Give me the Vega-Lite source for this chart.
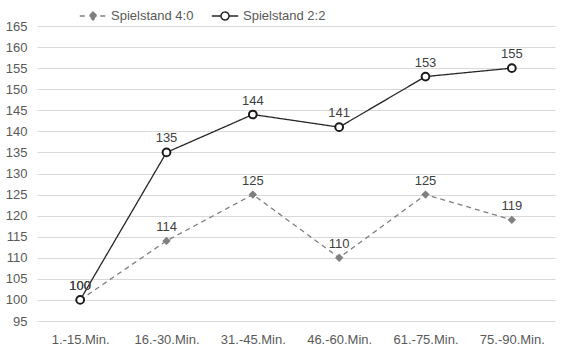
{
  "$schema": "https://vega.github.io/schema/vega-lite/v6.json",
  "width": 518,
  "height": 295,
  "autosize": {"type": "none"},
  "padding": {"left": 37, "top": 26, "right": 6, "bottom": 31},
  "background": "white",
  "config": {
    "font": "Liberation Sans",
    "view": {"stroke": null}
  },
  "data": {
    "values": [
      {"zeit": "1.-15.Min.", "serie": "Spielstand 4:0", "wert": 100},
      {"zeit": "16.-30.Min.", "serie": "Spielstand 4:0", "wert": 114},
      {"zeit": "31.-45.Min.", "serie": "Spielstand 4:0", "wert": 125},
      {"zeit": "46.-60.Min.", "serie": "Spielstand 4:0", "wert": 110},
      {"zeit": "61.-75.Min.", "serie": "Spielstand 4:0", "wert": 125},
      {"zeit": "75.-90.Min.", "serie": "Spielstand 4:0", "wert": 119},
      {"zeit": "1.-15.Min.", "serie": "Spielstand 2:2", "wert": 100},
      {"zeit": "16.-30.Min.", "serie": "Spielstand 2:2", "wert": 135},
      {"zeit": "31.-45.Min.", "serie": "Spielstand 2:2", "wert": 144},
      {"zeit": "46.-60.Min.", "serie": "Spielstand 2:2", "wert": 141},
      {"zeit": "61.-75.Min.", "serie": "Spielstand 2:2", "wert": 153},
      {"zeit": "75.-90.Min.", "serie": "Spielstand 2:2", "wert": 155}
    ]
  },
  "encoding": {
    "x": {
      "field": "zeit",
      "type": "nominal",
      "sort": null,
      "scale": {"type": "point", "padding": 0.5},
      "axis": {
        "title": null,
        "labelAngle": 0,
        "domain": false,
        "ticks": false,
        "labelFontSize": 13,
        "labelColor": "#595959",
        "labelPadding": 12
      }
    },
    "y": {
      "field": "wert",
      "type": "quantitative",
      "scale": {"domain": [95, 165], "nice": false, "zero": false},
      "axis": {
        "title": null,
        "values": [95, 100, 105, 110, 115, 120, 125, 130, 135, 140, 145, 150, 155, 160, 165],
        "domain": false,
        "ticks": false,
        "gridColor": "#d9d9d9",
        "labelFontSize": 13,
        "labelColor": "#595959",
        "labelPadding": 10
      }
    }
  },
  "layer": [
    {
      "mark": {"type": "line", "strokeWidth": 1.3},
      "encoding": {
        "color": {
          "field": "serie",
          "type": "nominal",
          "scale": {"domain": ["Spielstand 4:0", "Spielstand 2:2"], "range": ["#7f7f7f", "#262626"]},
          "legend": {
            "title": null,
            "orient": "none",
            "legendX": 42,
            "legendY": -24,
            "direction": "horizontal",
            "symbolSize": 700,
            "symbolStrokeWidth": 1.5,
            "labelFontSize": 13,
            "labelColor": "#595959",
            "labelOffset": 4,
            "columnPadding": 14,
            "encode": {
              "symbols": {
                "update": {
                  "shape": {"signal": "datum.value == 'Spielstand 4:0' ? 'M-1,0H-0.55M0.55,0H1M0,-0.3L0.3,0L0,0.3L-0.3,0Z' : 'M-1,0H-0.3M0.3,0H1M-0.3,0A0.3,0.3 0 1,0 0.3,0A0.3,0.3 0 1,0 -0.3,0Z'"},
                  "fill": {"signal": "datum.value == 'Spielstand 4:0' ? '#7f7f7f' : 'white'"},
                  "strokeDash": {"value": []}
                }
              }
            }
          }
        },
        "strokeDash": {
          "field": "serie",
          "type": "nominal",
          "scale": {"domain": ["Spielstand 4:0", "Spielstand 2:2"], "range": [[5, 4], [1, 0]]},
          "legend": null
        }
      }
    },
    {
      "transform": [{"filter": "datum.serie == 'Spielstand 4:0'"}],
      "mark": {"type": "point", "shape": "diamond", "filled": true, "size": 70, "color": "#7f7f7f", "opacity": 1}
    },
    {
      "transform": [{"filter": "datum.serie == 'Spielstand 2:2'"}],
      "mark": {"type": "point", "shape": "circle", "filled": true, "size": 60, "fill": "white", "stroke": "#1a1a1a", "strokeWidth": 2, "opacity": 1}
    },
    {
      "mark": {"type": "text", "dy": -14, "fontSize": 13, "color": "#404040"},
      "encoding": {"text": {"field": "wert", "type": "quantitative"}}
    }
  ]
}
